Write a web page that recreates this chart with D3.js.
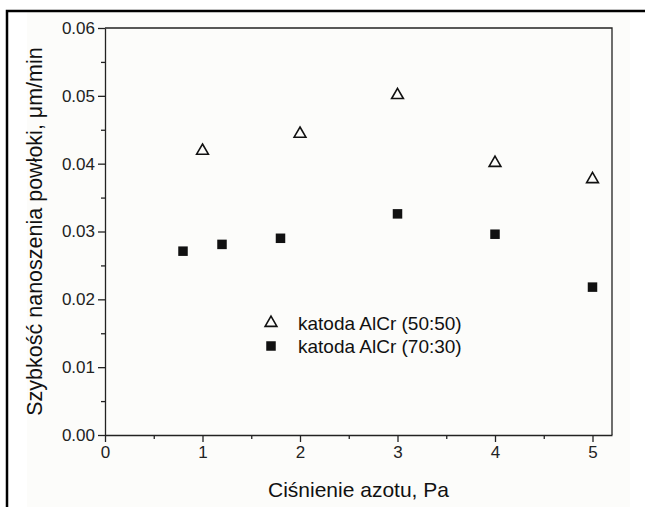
<!DOCTYPE html>
<html>
<head>
<meta charset="utf-8">
<script src="https://cdn.jsdelivr.net/npm/d3@7"></script>
<style>
  body { margin: 0; background: #fff; }
  svg { display: block; font-family: Arial, "Liberation Sans", sans-serif; }
</style>
</head>
<body>
<svg id="chart" width="645" height="507"></svg>
<script>
// data
const pressure5050 = [1, 2, 3, 4, 5];
const rate5050 = [0.0419, 0.0444, 0.0501, 0.0401, 0.0377];
const pressure7030 = [0.8, 1.2, 1.8, 3, 4, 5];
const rate7030 = [0.0271, 0.0281, 0.0290, 0.0326, 0.0296, 0.0218];
const xTicks = [0, 1, 2, 3, 4, 5];
const yTicks = [0, 0.01, 0.02, 0.03, 0.04, 0.05, 0.06];
const seriesNames = ["katoda AlCr (50:50)", "katoda AlCr (70:30)"];

const svg = d3.select("#chart");
const margin = {left: 105, right: 33, top: 28, bottom: 72};
const W = 645, H = 507;

// outer frame + image background
svg.append("rect").attr("x", 27).attr("y", 12).attr("width", 603).attr("height", 495).attr("fill", "#fcfcfa");
svg.append("rect").attr("x", 7).attr("y", 11).attr("width", 660).attr("height", 520)
  .attr("fill", "none").attr("stroke", "#000").attr("stroke-width", 2.5);

const x = d3.scaleLinear().domain([0, 5.2]).range([margin.left, W - margin.right]);
const y = d3.scaleLinear().domain([0, 0.06]).range([H - margin.bottom, margin.top]);

const g = svg.append("g");

// minor ticks
const xMinor = d3.range(0.5, 5.2, 1);
const yMinor = d3.range(0.005, 0.06, 0.01);

g.append("g").attr("transform", `translate(0,${y(0)})`)
  .call(d3.axisBottom(x).tickValues(xMinor).tickSize(4).tickFormat(""))
  .call(a => a.select(".domain").remove());
g.append("g").attr("transform", `translate(${x(0)},0)`)
  .call(d3.axisLeft(y).tickValues(yMinor).tickSize(4).tickFormat(""))
  .call(a => a.select(".domain").remove());

const xAxis = g.append("g").attr("transform", `translate(0,${y(0)})`)
  .call(d3.axisBottom(x).tickValues(xTicks).tickSize(7).tickSizeOuter(0).tickPadding(4).tickFormat(d3.format("d")));
const yAxis = g.append("g").attr("transform", `translate(${x(0)},0)`)
  .call(d3.axisLeft(y).tickValues(yTicks).tickSize(7).tickSizeOuter(0).tickPadding(3).tickFormat(d3.format(".2f")));

[xAxis, yAxis].forEach(a => {
  a.attr("font-size", 17).attr("font-family", "Arial, 'Liberation Sans', sans-serif");
  a.selectAll("text").attr("fill", "#222");
});
g.selectAll("line, path").attr("stroke", "#222").attr("stroke-width", 1.3);

// top and right spines
g.append("path")
  .attr("d", `M${x(0)},${y(0.06)}H${x(5.2)}V${y(0)}`)
  .attr("fill", "none").attr("stroke", "#222").attr("stroke-width", 1.3);

// axis titles
svg.append("text").attr("x", (x(0) + x(5.2)) / 2).attr("y", 497)
  .attr("text-anchor", "middle").attr("font-size", 21).attr("fill", "#111")
  .text("Ciśnienie azotu, Pa");
svg.append("text")
  .attr("transform", `translate(42,${(y(0) + y(0.06)) / 2}) rotate(-90)`)
  .attr("text-anchor", "middle").attr("font-size", 21.5).attr("fill", "#111")
  .text("Szybkość nanoszenia powłoki, μm/min");

// markers
const tri = d3.symbol().type(d3.symbolTriangle).size(60);
g.selectAll(".t").data(pressure5050).join("path")
  .attr("class", "t")
  .attr("transform", (d, i) => `translate(${x(d)},${y(rate5050[i])})`)
  .attr("d", tri).attr("fill", "none").attr("stroke", "#111").attr("stroke-width", 1.6);

const sq = 9.5;
g.selectAll(".s").data(pressure7030).join("rect")
  .attr("class", "s")
  .attr("x", d => x(d) - sq / 2)
  .attr("y", (d, i) => y(rate7030[i]) - sq / 2)
  .attr("width", sq).attr("height", sq).attr("fill", "#111");

// legend
const leg = svg.append("g").attr("transform", "translate(271,323)");
leg.append("path").attr("d", tri).attr("fill", "none").attr("stroke", "#111").attr("stroke-width", 1.6);
leg.append("rect").attr("x", -sq / 2).attr("y", 23 - sq / 2).attr("width", sq).attr("height", sq).attr("fill", "#111");
leg.selectAll("text").data(seriesNames).join("text")
  .attr("x", 27).attr("y", (d, i) => i * 23 + 7)
  .attr("font-size", 19).attr("fill", "#111")
  .text(d => d);
</script>
</body>
</html>
